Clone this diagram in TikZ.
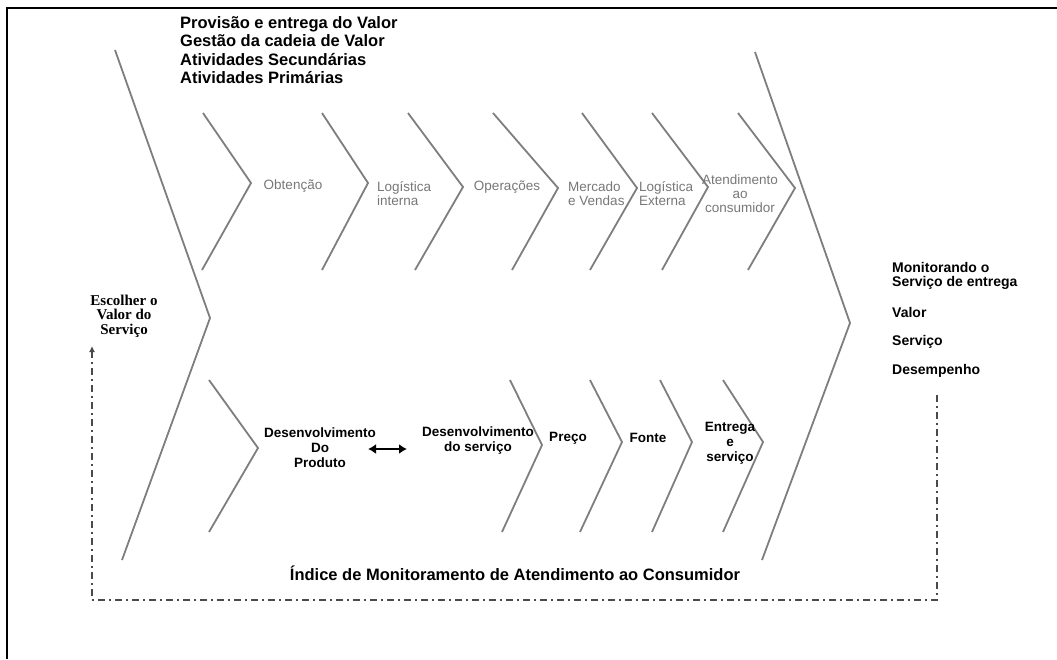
\documentclass[tikz,border=0pt]{standalone}
\usepackage{fontspec}
\setmainfont{Liberation Sans}
\newfontfamily\serifbold{Liberation Serif}
\usetikzlibrary{arrows.meta}
\definecolor{chevgray}{HTML}{7E7E7E}
\definecolor{labgray}{HTML}{777777}
\definecolor{loopgray}{HTML}{4A4A4A}
\begin{document}
\begin{tikzpicture}[x=1pt,y=-1pt,
  chev/.style={draw=chevgray,line width=1.8pt,line join=miter},
  uplabel/.style={font=\fontsize{13.5}{14}\selectfont,text=labgray,inner sep=0pt},
  lowlabel/.style={font=\bfseries\fontsize{13.5}{15}\selectfont,inner sep=0pt,align=center},
  sidelabel/.style={font=\bfseries\fontsize{14}{14}\selectfont,inner sep=0pt,anchor=west,align=left},
  headlabel/.style={font=\bfseries\fontsize{16.5}{18.3}\selectfont,inner sep=0pt,align=left},
  loopline/.style={draw=loopgray,line width=2.2pt,dash pattern=on 7pt off 4pt on 2pt off 4pt}]
\useasboundingbox (0,0) rectangle (1057,659);
% page frame (top and left edges)
\draw[line width=2.5pt] (7,659) -- (7,8) -- (1057,8);

% heading block
\node[headlabel,anchor=west] (head) at (180,50)
  {Provisão e entrega do Valor\\Gestão da cadeia de Valor\\Atividades Secundárias\\Atividades Primárias};

% large outer chevrons
\draw[chev] (115,50) -- (210,318) -- (122,560);
\draw[chev] (755,52) -- (850,323) -- (762,560);

% primary activities (upper row)
\draw[chev] (203,113) -- (251,183) -- (202,270);
\draw[chev] (322,113) -- (368,183) -- (322,270);
\draw[chev] (408,113) -- (463,187) -- (415,270);
\draw[chev] (493,113) -- (558,188) -- (512,270);
\draw[chev] (582,113) -- (637,188) -- (590,270);
\draw[chev] (652,113) -- (708,187) -- (662,270);
\draw[chev] (738,113) -- (795,188) -- (748,270);

\node[uplabel] (obt) at (293,186) {Obtenção};
\node[uplabel,align=left,anchor=west] (logint) at (377,194) {Logística\\interna};
\node[uplabel] (oper) at (507,187) {Operações};
\node[uplabel,align=left,anchor=west] (merc) at (568,194) {Mercado\\e Vendas};
\node[uplabel,align=left,anchor=west] (logext) at (639,194) {Logística\\Externa};
\node[uplabel,align=center] (atend) at (740,194) {Atendimento\\ao\\consumidor};

% secondary activities (lower row)
\draw[chev] (209,380) -- (258,448) -- (209,532);
\draw[chev] (510,380) -- (542,445) -- (502,532);
\draw[chev] (590,380) -- (622,442) -- (580,532);
\draw[chev] (660,380) -- (692,442) -- (652,532);
\draw[chev] (723,380) -- (763,442) -- (723,532);

\node[lowlabel] (devprod) at (320,448) {Desenvolvimento\\Do\\Produto};
\node[lowlabel] (devserv) at (478,441) {Desenvolvimento\\do serviço};
\node[lowlabel] (preco) at (568,438) {Preço};
\node[lowlabel] (fonte) at (648,438) {Fonte};
\node[lowlabel] (entrega) at (730,443) {Entrega\\e\\serviço};

\coordinate (dl) at (368,449);
\coordinate (dr) at (407,449);
\draw[line width=2.6pt,{Latex[length=8pt,width=10pt]}-{Latex[length=8pt,width=10pt]}] (dl) -- (dr);

% left and right side labels
\node[font=\serifbold\bfseries\fontsize{15}{14.5}\selectfont,inner sep=0pt,align=center] (escolher) at (124,316)
  {Escolher o\\Valor do\\Serviço};
\node[sidelabel] (monit) at (892,276) {Monitorando o\\Serviço de entrega};
\node[sidelabel] (valor) at (892,312) {Valor};
\node[sidelabel] (servico) at (892,342) {Serviço};
\node[sidelabel] (desemp) at (892,371) {Desempenho};

% monitoring index and feedback loop
\node[font=\bfseries\fontsize{16.5}{18}\selectfont,inner sep=0pt] (indice) at (515,573)
  {Índice de Monitoramento de Atendimento ao Consumidor};
\coordinate (fbstart) at (937,395);
\coordinate (fbend) at (92,346);
\draw[loopline,-{Latex[length=6pt,width=6pt]}] (fbstart) -- (937,600) -- (92,600) -- (fbend);
\end{tikzpicture}
\end{document}
